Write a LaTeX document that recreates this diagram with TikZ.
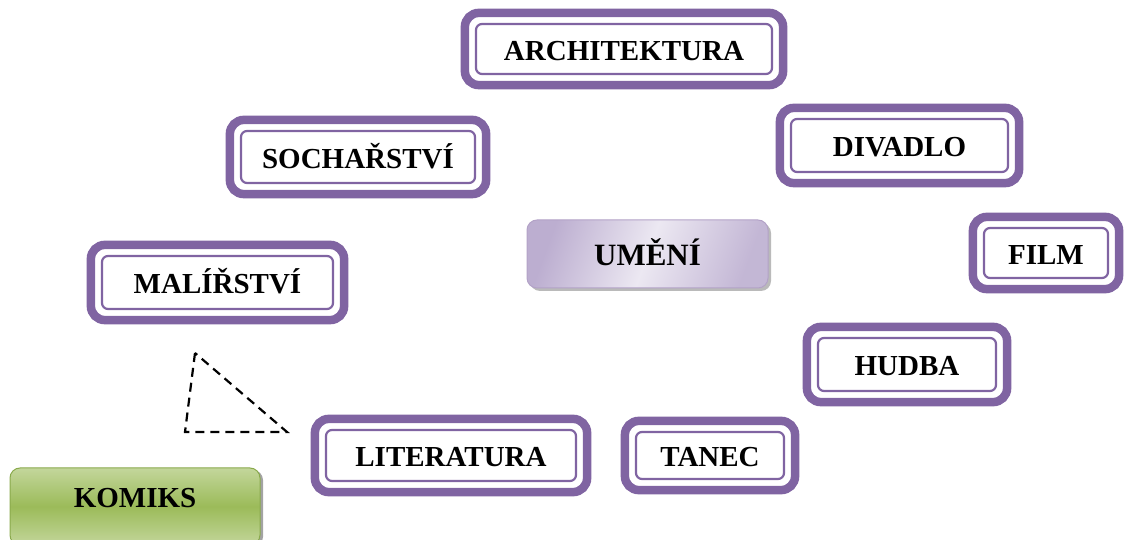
\documentclass[tikz,border=0pt]{standalone}
\usepackage{fontspec}
\setmainfont{Liberation Serif}
\usetikzlibrary{shadows}
\definecolor{artpurple}{HTML}{8064A2}
\definecolor{umL}{HTML}{ECE8F2}
\definecolor{umD}{HTML}{BCAED0}
\definecolor{umB}{HTML}{B3A2C7}
\definecolor{grL}{HTML}{C3D69B}
\definecolor{grM}{HTML}{9BBB59}
\definecolor{grB}{HTML}{8AAA4C}
\tikzset{
  artbox/.style={draw=artpurple, line width=2.2pt, rounded corners=6pt, fill=white,
    font=\bfseries\fontsize{29}{31}\selectfont, text height=23pt, text depth=0pt,
    inner sep=0pt},
  outerframe/.style={draw=artpurple, line width=8.5pt, rounded corners=14pt},
  centerbox/.style={draw=umB, line width=1pt, rounded corners=10pt,
    left color=umD, right color=umD!85!umL, middle color=umL, shading angle=70,
    drop shadow={shadow xshift=3pt, shadow yshift=-3pt, fill=black!45, opacity=0.6},
    font=\bfseries\fontsize{31}{33}\selectfont, text height=24pt, text depth=0pt,
    inner sep=0pt},
  greenbox/.style={draw=grB, line width=1pt, rounded corners=10pt,
    top color=grL, bottom color=grL, middle color=grM,
    drop shadow={shadow xshift=3pt, shadow yshift=-2pt, fill=black!60, opacity=0.6},
    font=\bfseries\fontsize{29}{31}\selectfont, text height=23pt, text depth=20pt,
    inner sep=0pt},
  tri/.style={draw=black, line width=2.2pt, dash pattern=on 9pt off 6pt}
}
\begin{document}
\begin{tikzpicture}[x=1pt,y=1pt]
\useasboundingbox (0,0) rectangle (1125,540);
% purple boxes
\node[artbox, minimum width=296pt, minimum height=50pt] (arch) at (624,491) {ARCHITEKTURA};
\node[artbox, minimum width=234pt, minimum height=52pt] (soch) at (358,383) {SOCHAŘSTVÍ};
\node[artbox, minimum width=217pt, minimum height=53pt] (div) at (899.5,394.5) {DIVADLO};
\node[artbox, minimum width=124pt, minimum height=50pt] (film) at (1046,287) {FILM};
\node[artbox, minimum width=231pt, minimum height=53pt] (mal) at (217.5,257.5) {MALÍŘSTVÍ};
\node[artbox, minimum width=178pt, minimum height=53pt] (hud) at (907,175.5) {HUDBA};
\node[artbox, minimum width=250pt, minimum height=51pt] (lit) at (451,84.5) {LITERATURA};
\node[artbox, minimum width=148pt, minimum height=47pt] (tan) at (710,84.5) {TANEC};
\foreach \n in {arch,soch,div,film,mal,hud,lit,tan}
  \draw[outerframe] ([shift={(-10pt,-10pt)}]\n.south west) rectangle ([shift={(10pt,10pt)}]\n.north east);
% centre
\node[centerbox, minimum width=241pt, minimum height=68pt] (umeni) at (647.5,286) {UMĚNÍ};
% komiks
\node[greenbox, minimum width=250pt, minimum height=77pt] (komiks) at (135,33.5) {KOMIKS};
% dashed triangle
\coordinate (ta) at (195,187);
\coordinate (tb) at (185,108);
\coordinate (tc) at (287,108);
\draw[tri] (ta) -- (tb) -- (tc) -- cycle;
\end{tikzpicture}
\end{document}
